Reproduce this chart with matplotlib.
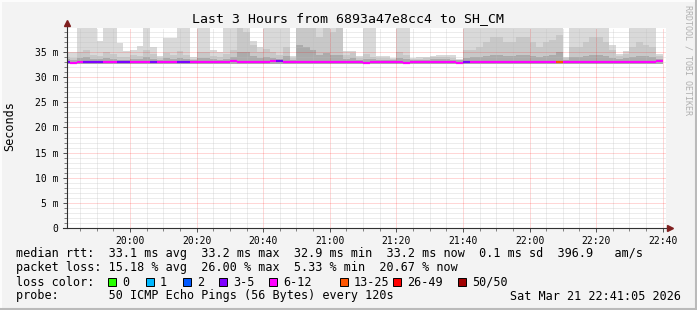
"""
Smokeping style latency graph: last 3 hours from 6893a47e8cc4 to SH_CM.
Writes out.png (697x310).
"""

import matplotlib
matplotlib.use("Agg")
import matplotlib.pyplot as plt
import numpy as np
from matplotlib.lines import Line2D
from matplotlib.patches import Rectangle
from matplotlib.ticker import FuncFormatter, MultipleLocator

MONO = "DejaVu Sans Mono"
W, H = 697, 310

# time axis, minutes of the day
START_MIN = 19 * 60 + 40          # left edge of first 120 s step
STEP_MIN = 2
VIEW_START = 19 * 60 + 41 + 5 / 60
VIEW_END = 22 * 60 + 41 + 5 / 60
Y_MAX = 39.8

# smoke (distribution of the 50 pings), ms; values above the top are clipped by the graph
smoke_low = [32.6] * 90
smoke_top = [
    35.0, 35.0, 40, 40, 40, 37.2, 40, 40, 36.8, 35.2,
    35.4, 36.2, 40, 36.0, 34.2, 37.9, 37.9, 40, 40, 34.0,
    40, 40, 35.4, 35.1, 40, 40, 40, 40, 37.2, 36.0,
    40, 40, 40, 40, 34.2, 40, 40, 40, 40, 40,
    40, 40, 35.3, 35.3, 34.2, 40, 40, 34.3, 34.3, 33.9,
    40, 40, 33.8, 34.0, 34.0, 34.3, 34.4, 34.4, 34.4, 33.7,
    40, 40, 40, 40, 40, 40, 40, 40, 40, 40,
    40, 40, 40, 40, 40, 34.0, 40, 40, 40, 40,
    40, 40, 36.4, 34.6, 35.3, 40, 40, 40, 40, 34.6,
]
smoke_q90 = [
    34.0, 33.8, 35.0, 35.5, 34.5, 34.2, 35.0, 34.6, 34.0, 34.0,
    34.5, 34.2, 35.5, 34.6, 33.8, 34.8, 34.5, 35.2, 34.4, 33.6,
    35.0, 35.0, 34.2, 34.0, 34.6, 35.4, 40, 39.0, 36.4, 35.0,
    35.6, 35.0, 34.5, 36.0, 33.8, 40, 40, 40, 38.0, 40,
    39.0, 40, 34.5, 34.8, 33.8, 34.6, 34.0, 33.8, 33.8, 33.6,
    35.0, 34.5, 33.6, 33.7, 33.8, 34.0, 34.0, 34.0, 33.9, 33.5,
    35.5, 35.5, 36.0, 37.0, 38.0, 38.0, 37.0, 37.0, 38.0, 38.0,
    37.0, 36.0, 37.0, 37.5, 38.5, 33.8, 36.0, 36.0, 37.0, 38.0,
    38.0, 37.0, 35.5, 34.2, 34.6, 36.0, 37.0, 36.5, 36.0, 34.2,
]
smoke_q75 = [
    33.6, 33.5, 33.8, 34.0, 33.7, 33.6, 33.8, 33.7, 33.5, 33.5,
    33.7, 33.6, 34.0, 33.7, 33.4, 33.8, 33.7, 33.9, 33.6, 33.4,
    33.8, 33.8, 33.6, 33.5, 33.7, 34.0, 35.0, 35.0, 34.2, 33.8,
    34.0, 33.8, 33.6, 34.2, 33.5, 36.5, 36.0, 35.5, 34.5, 34.8,
    34.5, 34.5, 33.7, 33.8, 33.5, 33.7, 33.6, 33.5, 33.5, 33.4,
    33.8, 33.7, 33.4, 33.5, 33.5, 33.6, 33.6, 33.6, 33.5, 33.4,
    33.9, 34.0, 34.0, 34.3, 34.5, 34.5, 34.3, 34.2, 34.5, 34.5,
    34.2, 34.0, 34.3, 34.4, 35.0, 33.5, 34.0, 34.0, 34.2, 34.5,
    34.5, 34.2, 33.9, 33.6, 33.8, 34.0, 34.3, 34.2, 34.0, 33.6,
]
median_ms = [
    33.0, 32.9, 33.0, 33.0, 33.0, 33.0, 33.0, 33.0, 33.0, 33.0,
    33.0, 33.0, 33.0, 33.0, 33.0, 33.0, 33.0, 33.0, 33.0, 33.0,
    33.0, 33.0, 33.0, 33.0, 33.1, 33.2, 33.0, 33.0, 33.0, 33.0,
    33.0, 33.2, 33.2, 33.0, 33.1, 33.1, 33.1, 33.1, 33.1, 33.1,
    33.1, 33.1, 33.0, 33.0, 33.0, 32.9, 33.0, 33.0, 33.0, 33.0,
    33.0, 32.9, 33.0, 33.0, 33.0, 33.0, 33.0, 33.0, 33.0, 32.9,
    33.1, 33.1, 33.1, 33.1, 33.1, 33.1, 33.1, 33.1, 33.1, 33.1,
    33.1, 33.1, 33.1, 33.1, 33.1, 33.1, 33.1, 33.1, 33.1, 33.1,
    33.1, 33.1, 33.1, 33.1, 33.1, 33.1, 33.1, 33.1, 33.1, 33.2,
]
# lost pings out of 50 per step
lost_pings = [
    4, 7, 8, 4, 5, 4, 8, 9, 4, 5,
    7, 8, 9, 4, 6, 8, 7, 5, 4, 6,
    9, 8, 7, 6, 8, 9, 10, 9, 7, 8,
    9, 8, 4, 9, 6, 10, 11, 10, 9, 9,
    10, 9, 7, 7, 6, 8, 8, 6, 6, 7,
    8, 8, 6, 6, 7, 7, 7, 7, 7, 6,
    5, 8, 8, 9, 9, 9, 8, 9, 9, 9,
    8, 8, 9, 9, 13, 7, 8, 9, 9, 9,
    9, 8, 8, 7, 7, 8, 9, 8, 8, 7,
]

loss_labels = ["0", "1", "2", "3-5", "6-12", "13-25", "26-49", "50/50"]
loss_upper = [0, 1, 2, 5, 12, 25, 49, 50]
loss_colors = ["#26ff00", "#00b8ff", "#0059ff", "#7e00ff", "#ff00ff",
               "#ff5500", "#ff0000", "#a10000"]

title = "Last 3 Hours from 6893a47e8cc4 to SH_CM"
stats_lines = [
    "median rtt:  33.1 ms avg  33.2 ms max  32.9 ms min  33.2 ms now  0.1 ms sd  396.9   am/s",
    "packet loss: 15.18 % avg  26.00 % max  5.33 % min  20.67 % now",
]
probe_text = "probe:       50 ICMP Echo Pings (56 Bytes) every 120s"
stamp_text = "Sat Mar 21 22:41:05 2026"


def loss_color(n):
    for upper, color in zip(loss_upper, loss_colors):
        if n <= upper:
            return color
    return loss_colors[-1]


def px(x, y):
    """pixel position (from top left) -> figure fraction"""
    return x / W, 1 - y / H


fig = plt.figure(figsize=(W / 100, H / 100), dpi=100, facecolor="#f3f3f3")
ax = fig.add_axes([67 / W, (H - 228) / H, 599.3 / W, 200 / H])
ax.set_facecolor("white")

t = START_MIN + STEP_MIN * np.arange(len(smoke_top))
low = np.array(smoke_low)
for top, color in [(smoke_top, "#d9d9d9"), (smoke_q90, "#c8c8c8"), (smoke_q75, "#ababab")]:
    ax.bar(t, np.array(top) - low, bottom=low, width=STEP_MIN, align="edge",
           color=color, linewidth=0, zorder=1)

ax.hlines(median_ms, t, t + STEP_MIN, colors=[loss_color(n) for n in lost_pings],
          linewidth=1.6, zorder=4, capstyle="butt")

ax.set_xlim(VIEW_START, VIEW_END)
ax.set_ylim(0, Y_MAX)
ax.xaxis.set_major_locator(MultipleLocator(20))
ax.xaxis.set_minor_locator(MultipleLocator(5))
ax.yaxis.set_major_locator(MultipleLocator(5))
ax.yaxis.set_minor_locator(MultipleLocator(1))
ax.xaxis.set_major_formatter(FuncFormatter(lambda v, p: f"{int(v) // 60:02d}:{int(round(v)) % 60:02d}"))
ax.yaxis.set_major_formatter(FuncFormatter(lambda v, p: "0" if v == 0 else f"{int(v)} m"))

ax.set_axisbelow(False)
ax.grid(which="minor", color="#bdbdbd", alpha=0.55, linestyle=(0, (1, 1)), linewidth=0.72)
ax.grid(which="major", color="#ff0000", alpha=0.32, linestyle=(0, (1, 1)), linewidth=0.72)

for s in ax.spines.values():
    s.set_visible(False)
ax.tick_params(which="major", length=3, width=0.7, color="#505050", direction="out",
               labelsize=7, pad=3)
ax.tick_params(which="minor", length=2, width=0.7, color="#808080", direction="out")
for lab in ax.get_xticklabels() + ax.get_yticklabels():
    lab.set_family(MONO)

# axes with arrow heads
axis_col = "#303030"
arrow_col = "#7f1f1f"
ax.add_line(Line2D([0, 0], [0, 1.025], transform=ax.transAxes, color=axis_col,
                   linewidth=0.8, clip_on=False, zorder=5))
ax.add_line(Line2D([-4 / 599.3, 1.004], [0, 0], transform=ax.transAxes, color=axis_col,
                   linewidth=0.8, clip_on=False, zorder=5))
ax.plot([0], [1.025], marker="^", markersize=4.5, color=arrow_col, transform=ax.transAxes,
        clip_on=False, zorder=6)
ax.plot([1.006], [0], marker=">", markersize=4.5, color=arrow_col, transform=ax.transAxes,
        clip_on=False, zorder=6)

# texts
fig.text(*px(348, 19), title, family=MONO, fontsize=9.5, ha="center", va="center")
fig.text(*px(10, 126), "Seconds", family=MONO, fontsize=8.5, rotation=90,
         ha="center", va="center")
fig.text(*px(688, 60), "RRDTOOL / TOBI OETIKER", family=MONO, fontsize=6,
         rotation=270, ha="center", va="center", color="#b0b0b0")

line_y = [254, 268, 282, 296]
for y, s in zip(line_y[:2], stats_lines):
    fig.text(*px(16, y), s, family=MONO, fontsize=8.5, va="center")
fig.text(*px(16, line_y[2]), "loss color:", family=MONO, fontsize=8.5, va="center")
box_x = [108, 146, 183, 219, 269, 340, 393, 458]
for bx, lab, col in zip(box_x, loss_labels, loss_colors):
    fx, fy = px(bx, line_y[2] + 4)
    fig.add_artist(Rectangle((fx, fy), 8 / W, 8 / H, transform=fig.transFigure,
                             facecolor=col, edgecolor="black", linewidth=0.7))
    fig.text(*px(bx + 14, line_y[2]), lab, family=MONO, fontsize=8.5, va="center")
fig.text(*px(16, line_y[3]), probe_text, family=MONO, fontsize=8.5, va="center")
fig.text(*px(681, line_y[3]), stamp_text, family=MONO, fontsize=8.5, va="center", ha="right")

# 3d-ish frame
for xs, ys, col in [([0, W], [0.5, 0.5], "#fcfcfc"), ([0.5, 0.5], [0, H], "#fcfcfc"),
                    ([0, W], [H - 1, H - 1], "#bababa"), ([W - 1, W - 1], [0, H], "#bababa")]:
    fig.add_artist(Line2D([x / W for x in xs], [1 - y / H for y in ys],
                          transform=fig.transFigure, color=col, linewidth=1.5))

fig.savefig("out.png", dpi=100, facecolor=fig.get_facecolor())
